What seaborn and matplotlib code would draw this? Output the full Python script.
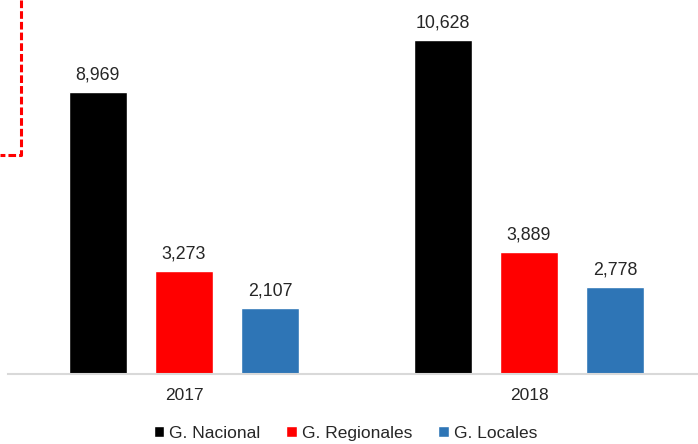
import pandas as pd
import matplotlib.pyplot as plt
import seaborn as sns
from matplotlib.lines import Line2D

# data
years = ["2017", "2018"]
groups = ["G. Nacional", "G. Regionales", "G. Locales"]
nacional = [8969, 10628]
regionales = [3273, 3889]
locales = [2107, 2778]
colors = ["#000000", "#ff0000", "#2e75b6"]

df = pd.DataFrame({
    "year": years * 3,
    "group": [groups[0]] * 2 + [groups[1]] * 2 + [groups[2]] * 2,
    "value": nacional + regionales + locales,
})

sns.set_style("white")
plt.rcParams["font.family"] = ["Liberation Sans", "DejaVu Sans"]

fig = plt.figure(figsize=(6.98, 4.44), dpi=100)
ax = fig.add_axes([8 / 698, 70 / 444, 690 / 698, 374 / 444])

sns.barplot(data=df, x="year", y="value", hue="group", order=years,
            hue_order=groups, palette=colors, width=0.75, gap=0.33,
            saturation=1, ax=ax)

# value labels above bars
for cont in ax.containers:
    ax.bar_label(cont, fmt="{:,.0f}", padding=6, fontsize=12.8)

ax.set_xlim(-0.51, 1.49)
ax.set_ylim(0, 11900)
ax.set_xlabel("")
ax.set_ylabel("")
ax.set_yticks([])
ax.tick_params(axis="x", length=0, labelsize=12.5, pad=10)
for s in ["top", "right", "left"]:
    ax.spines[s].set_visible(False)
ax.spines["bottom"].set_color("#d9d9d9")
ax.spines["bottom"].set_linewidth(1.5)

ax.legend_.remove()
fig.legend(*ax.get_legend_handles_labels(), loc="lower center",
           bbox_to_anchor=(0.495, -0.028), ncol=3, frameon=False,
           fontsize=12.5, handlelength=0.6, handleheight=0.6,
           handletextpad=0.3, columnspacing=1.5)

# leftover red dashed box corner in the top-left
fig.add_artist(Line2D([21 / 698, 21 / 698, 0], [1, 1 - 155 / 444, 1 - 155 / 444],
                      transform=fig.transFigure, color="#ff0000", lw=2.2,
                      ls=(0, (2.5, 1))))

fig.savefig("out.png", dpi=100)
